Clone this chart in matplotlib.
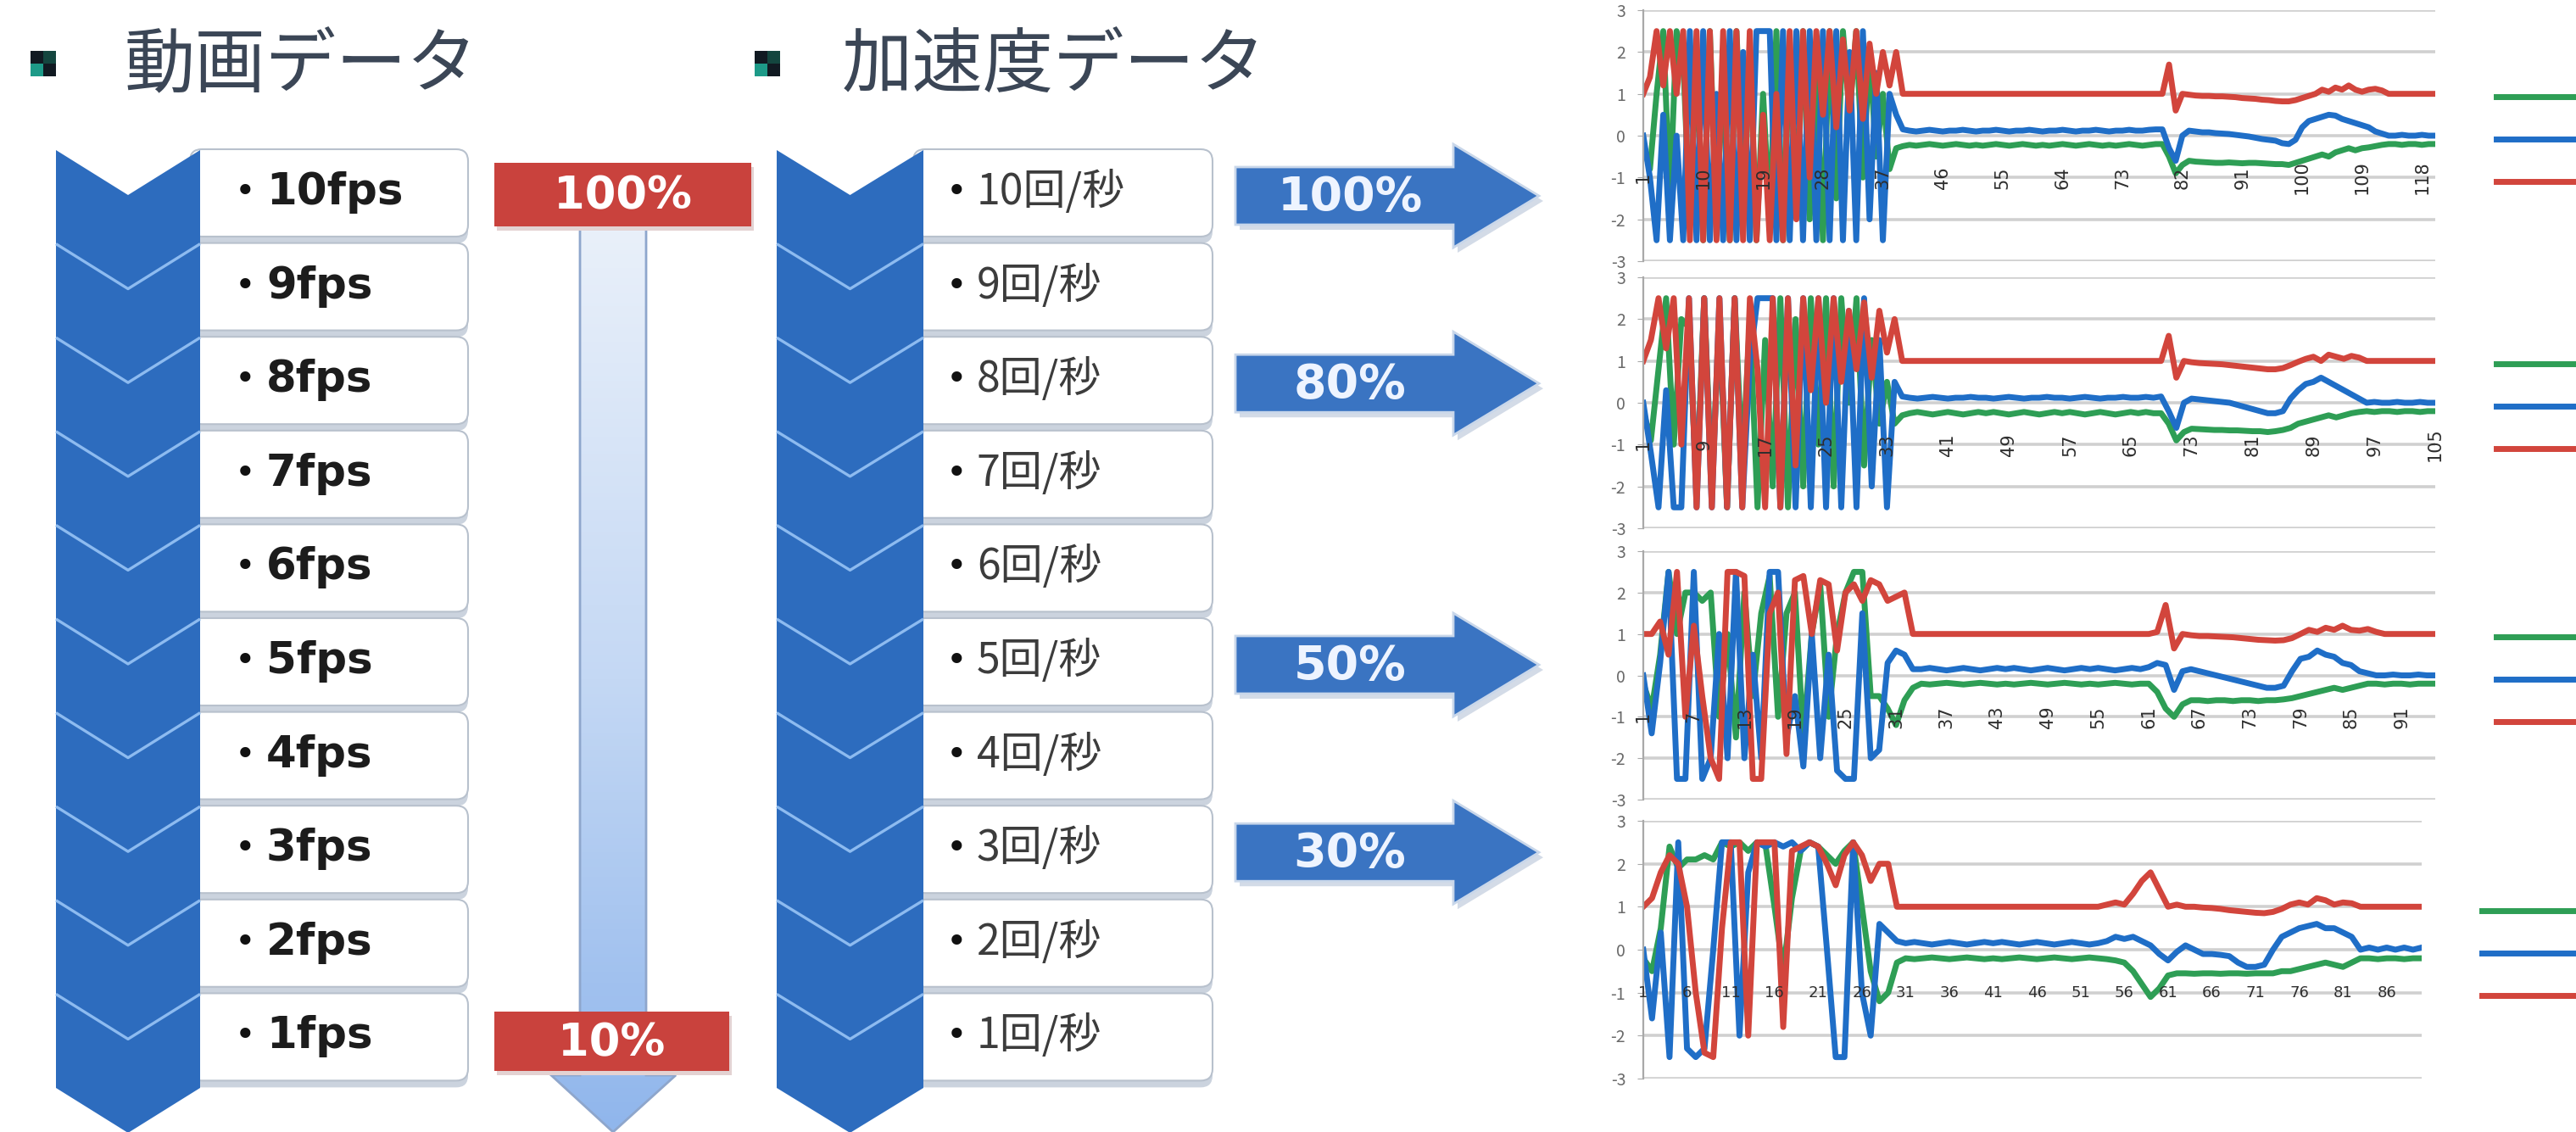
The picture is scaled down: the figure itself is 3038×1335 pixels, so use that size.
import numpy as np
import matplotlib
matplotlib.use("Agg")
import matplotlib.pyplot as plt
from matplotlib.patches import Polygon, FancyBboxPatch, Rectangle
from matplotlib.colors import LinearSegmentedColormap

plt.rcParams['font.family'] = ['Noto Sans CJK JP', 'DejaVu Sans']
plt.rcParams['axes.unicode_minus'] = False

W, H, DPI = 3038, 1335, 100

# ---------------- data ----------------
header_video = "動画データ"
header_accel = "加速度データ"
video_rates = ["10fps", "9fps", "8fps", "7fps", "6fps", "5fps", "4fps", "3fps", "2fps", "1fps"]
accel_rates = ["10回/秒", "9回/秒", "8回/秒", "7回/秒", "6回/秒",
               "5回/秒", "4回/秒", "3回/秒", "2回/秒", "1回/秒"]
video_range = ["100%", "10%"]
arrow_labels = ["100%", "80%", "50%", "30%"]
arrow_rows = [0, 2, 5, 7]
series_names = ["x", "y", "z"]

# 100% sampling
green_100 = [-0.2, -0.8, 1.0, 2.5, -1.5, 2.5, 1.8, -2.0, 2.0, -2.5,
             2.5, -2.0, 1.5, -2.5, 2.5, -1.0, 2.0, -2.5, 1.0, -2.0,
             2.5, -2.5, 2.0, -1.5, 2.5, -2.0, 1.5, -2.5, 2.5, -1.5,
             2.5, 0.5, 2.5, -1.0, 2.0, -0.5, 1.0, -0.8, -0.3, -0.25,
             -0.22, -0.24, -0.22, -0.2, -0.22, -0.24, -0.22, -0.2, -0.22, -0.24,
             -0.22, -0.24, -0.22, -0.2, -0.22, -0.24, -0.22, -0.2, -0.22, -0.24,
             -0.22, -0.24, -0.22, -0.2, -0.22, -0.24, -0.22, -0.2, -0.22, -0.24,
             -0.22, -0.24, -0.22, -0.2, -0.22, -0.24, -0.22, -0.2, -0.2, -0.5,
             -0.9, -0.7, -0.6, -0.62, -0.63, -0.64, -0.65, -0.65, -0.64, -0.65,
             -0.66, -0.65, -0.65, -0.66, -0.67, -0.68, -0.68, -0.7, -0.65, -0.6,
             -0.55, -0.5, -0.45, -0.5, -0.4, -0.35, -0.3, -0.35, -0.3, -0.28,
             -0.25, -0.22, -0.2, -0.2, -0.22, -0.2, -0.2, -0.22, -0.2, -0.2]
blue_100 = [0.0, -1.0, -2.5, 0.5, -2.5, 0.0, -2.5, 2.5, -2.5, 2.5,
            -2.5, 1.0, -2.5, 2.5, -2.5, 2.0, -2.5, 2.5, 2.5, 2.5,
            -2.5, 2.5, -2.5, 2.5, -2.5, 2.5, -2.5, 2.5, -2.5, 2.5,
            -2.5, 2.0, -2.5, 2.5, -2.0, 1.5, -2.5, 1.0, 0.5, 0.15,
            0.12, 0.1, 0.12, 0.14, 0.12, 0.1, 0.12, 0.12, 0.14, 0.12,
            0.1, 0.12, 0.12, 0.14, 0.12, 0.1, 0.12, 0.12, 0.14, 0.12,
            0.1, 0.12, 0.12, 0.14, 0.12, 0.1, 0.12, 0.12, 0.14, 0.12,
            0.1, 0.12, 0.12, 0.14, 0.12, 0.12, 0.14, 0.15, 0.15, -0.3,
            -0.6, 0.0, 0.12, 0.1, 0.08, 0.08, 0.06, 0.05, 0.04, 0.02,
            0.0, -0.02, -0.05, -0.08, -0.1, -0.12, -0.18, -0.2, -0.1, 0.2,
            0.35, 0.4, 0.45, 0.5, 0.48, 0.4, 0.35, 0.3, 0.25, 0.2,
            0.1, 0.05, 0.0, 0.0, 0.02, 0.0, 0.0, 0.02, 0.0, 0.0]
red_100 = [1.0, 1.4, 2.5, 1.2, 2.5, 1.0, 2.5, -2.5, 2.5, -2.5,
           2.5, -2.5, 2.5, -2.5, 2.5, -2.5, 2.5, -2.5, 0.5, -2.5,
           1.0, -2.5, 2.5, -2.0, 2.5, -1.0, 2.5, 0.5, 2.5, 0.2,
           2.3, 0.6, 2.5, 0.4, 2.2, 1.0, 2.0, 1.2, 2.0, 1.0,
           1.0, 1.0, 1.0, 1.0, 1.0, 1.0, 1.0, 1.0, 1.0, 1.0,
           1.0, 1.0, 1.0, 1.0, 1.0, 1.0, 1.0, 1.0, 1.0, 1.0,
           1.0, 1.0, 1.0, 1.0, 1.0, 1.0, 1.0, 1.0, 1.0, 1.0,
           1.0, 1.0, 1.0, 1.0, 1.0, 1.0, 1.0, 1.0, 1.0, 1.7,
           0.6, 1.0, 0.98, 0.96, 0.95, 0.95, 0.94, 0.94, 0.93, 0.92,
           0.9, 0.89, 0.88, 0.86, 0.85, 0.83, 0.82, 0.82, 0.85, 0.9,
           0.95, 1.0, 1.1, 1.05, 1.15, 1.1, 1.2, 1.1, 1.05, 1.1,
           1.12, 1.08, 1.0, 1.0, 1.0, 1.0, 1.0, 1.0, 1.0, 1.0]

# 80% sampling
green_80 = [-0.2, -0.9, 0.8, 2.5, -1.0, 2.0, 1.8, -2.0, 2.5, -2.0,
            2.0, -2.5, 2.5, -1.5, 2.0, -2.5, 1.5, -2.0, 2.5, -2.5,
            2.0, -2.0, 2.5, -1.0, 2.5, -2.0, 2.5, 0.0, 2.5, -1.5,
            1.5, -0.5, 0.5, -0.5, -0.3,
            -0.25, -0.22, -0.25, -0.28, -0.25, -0.22, -0.25, -0.28, -0.25, -0.22,
            -0.25, -0.22, -0.25, -0.28, -0.25, -0.22, -0.25, -0.28, -0.25, -0.22,
            -0.25, -0.22, -0.25, -0.28, -0.25, -0.22, -0.25, -0.28, -0.25, -0.22,
            -0.25, -0.22, -0.25, -0.25, -0.5, -0.9, -0.7, -0.62, -0.63, -0.64,
            -0.65, -0.65, -0.66, -0.66, -0.67, -0.68, -0.68, -0.7, -0.68, -0.65,
            -0.6, -0.5, -0.45, -0.4, -0.35, -0.3, -0.35, -0.3, -0.25, -0.22,
            -0.2, -0.22, -0.2, -0.2, -0.22, -0.2, -0.2, -0.22, -0.2, -0.2]
blue_80 = [0.0, -1.2, -2.5, 0.3, -2.5, -2.5, 2.5, -2.5, 2.5, -2.5,
           2.5, -2.5, 2.5, -2.5, 1.0, 2.5, 2.5, 2.5, -2.5, 2.5,
           -2.5, 2.5, -2.5, 2.5, -2.5, 2.5, -2.5, 2.2, -2.5, 2.5,
           -2.0, 1.5, -2.5, 0.5, 0.15,
           0.12, 0.1, 0.12, 0.14, 0.12, 0.1, 0.12, 0.12, 0.14, 0.12,
           0.12, 0.1, 0.12, 0.14, 0.12, 0.1, 0.12, 0.12, 0.14, 0.12,
           0.12, 0.1, 0.12, 0.14, 0.12, 0.1, 0.12, 0.12, 0.14, 0.12,
           0.12, 0.14, 0.12, 0.15, -0.2, -0.6, 0.0, 0.1, 0.08, 0.06,
           0.04, 0.02, 0.0, -0.05, -0.1, -0.15, -0.2, -0.25, -0.25, -0.2,
           0.1, 0.3, 0.45, 0.5, 0.6, 0.5, 0.4, 0.3, 0.2, 0.1,
           0.0, 0.02, 0.0, 0.0, 0.02, 0.0, 0.0, 0.02, 0.0, 0.0]
red_80 = [1.0, 1.5, 2.5, 1.3, 2.5, -1.0, 2.5, -2.5, 2.5, -2.5,
          2.5, -2.5, 2.5, -2.5, 2.5, 0.8, -2.5, 2.5, -2.5, 2.5,
          -1.5, 2.5, 0.3, 2.5, 0.0, 2.5, 0.5, 2.2, 0.8, 2.4,
          0.6, 2.2, 1.2, 2.0, 1.0,
          1.0, 1.0, 1.0, 1.0, 1.0, 1.0, 1.0, 1.0, 1.0, 1.0,
          1.0, 1.0, 1.0, 1.0, 1.0, 1.0, 1.0, 1.0, 1.0, 1.0,
          1.0, 1.0, 1.0, 1.0, 1.0, 1.0, 1.0, 1.0, 1.0, 1.0,
          1.0, 1.0, 1.0, 1.0, 1.6, 0.6, 1.0, 0.97, 0.95, 0.94,
          0.93, 0.92, 0.9, 0.88, 0.86, 0.84, 0.82, 0.8, 0.8, 0.83,
          0.9, 0.98, 1.05, 1.1, 1.0, 1.15, 1.1, 1.05, 1.12, 1.08,
          1.0, 1.0, 1.0, 1.0, 1.0, 1.0, 1.0, 1.0, 1.0, 1.0]

# 50% sampling
green_50 = [-0.2, -0.8, 0.5, 2.5, 1.0, 2.0, 2.0, 1.8, 2.0, -1.0,
            1.0, -1.5, 2.0, -0.5, 1.5, 2.4, -1.0, 1.5, 2.0, -1.5,
            1.0, 2.2, -1.0, 1.0, 2.0, 2.5, 2.5, -0.5, -0.5, -0.8,
            -1.2, -0.6, -0.3,
            -0.2, -0.22, -0.2, -0.18, -0.2, -0.22, -0.2, -0.18, -0.2, -0.22,
            -0.2, -0.22, -0.2, -0.18, -0.2, -0.22, -0.2, -0.18, -0.2, -0.22,
            -0.2, -0.22, -0.2, -0.18, -0.2, -0.22, -0.2, -0.2, -0.4, -0.8,
            -1.0, -0.7, -0.6, -0.6, -0.62, -0.6, -0.6, -0.62, -0.6, -0.6,
            -0.62, -0.6, -0.6, -0.58, -0.55, -0.5, -0.45, -0.4, -0.35, -0.3,
            -0.35, -0.3, -0.25, -0.2, -0.2, -0.22, -0.2, -0.2, -0.22, -0.2,
            -0.2, -0.2]
blue_50 = [0.0, -1.4, 0.3, 2.5, -2.5, -2.5, 2.5, -2.5, -2.0, 1.0,
           -2.0, 2.5, -2.0, 0.5, -2.0, 2.5, 2.5, -1.5, -0.5, -2.2,
           1.0, -2.0, 0.5, -2.3, -2.5, -2.5, 1.5, -2.0, -1.8, 0.3,
           0.6, 0.5, 0.15,
           0.15, 0.18, 0.15, 0.12, 0.15, 0.18, 0.15, 0.12, 0.15, 0.18,
           0.15, 0.18, 0.15, 0.12, 0.15, 0.18, 0.15, 0.12, 0.15, 0.18,
           0.15, 0.18, 0.15, 0.12, 0.15, 0.18, 0.15, 0.2, 0.3, 0.25,
           -0.35, 0.1, 0.15, 0.1, 0.05, 0.0, -0.05, -0.1, -0.15, -0.2,
           -0.25, -0.3, -0.3, -0.25, 0.1, 0.4, 0.45, 0.6, 0.5, 0.45,
           0.3, 0.25, 0.1, 0.05, 0.0, 0.0, 0.02, 0.0, 0.0, 0.02,
           0.0, 0.0]
red_50 = [1.0, 1.0, 1.3, 0.5, 2.5, -1.0, 1.2, -0.5, -2.0, -2.5,
          2.5, 2.5, 2.4, -2.5, -2.5, 1.5, 2.0, -1.9, 2.3, 2.4,
          1.0, 2.3, 2.2, 0.6, 2.0, 2.2, 1.8, 2.3, 2.2, 1.8,
          1.9, 2.0, 1.0,
          1.0, 1.0, 1.0, 1.0, 1.0, 1.0, 1.0, 1.0, 1.0, 1.0,
          1.0, 1.0, 1.0, 1.0, 1.0, 1.0, 1.0, 1.0, 1.0, 1.0,
          1.0, 1.0, 1.0, 1.0, 1.0, 1.0, 1.0, 1.0, 1.05, 1.7,
          0.65, 1.0, 0.97, 0.95, 0.95, 0.94, 0.93, 0.92, 0.9, 0.88,
          0.86, 0.85, 0.84, 0.85, 0.9, 1.0, 1.1, 1.05, 1.15, 1.1,
          1.2, 1.1, 1.08, 1.12, 1.05, 1.0, 1.0, 1.0, 1.0, 1.0,
          1.0, 1.0]

# 30% sampling
green_30 = [-0.2, -0.5, 0.5, 2.4, 1.9, 2.1, 2.1, 2.2, 2.1, 2.5,
            2.4, 2.5, 2.3, 2.5, 2.4, 1.0, -0.5, 1.2, 2.3, 2.5,
            2.4, 2.2, 2.0, 2.3, 2.5, 1.0, -0.5, -1.2, -1.0, -0.3,
            -0.2, -0.22, -0.2, -0.18, -0.2, -0.22, -0.2, -0.18, -0.2, -0.22,
            -0.2, -0.22, -0.2, -0.18, -0.2, -0.22, -0.2, -0.18, -0.2, -0.22,
            -0.2, -0.18, -0.2, -0.22, -0.25, -0.3, -0.5, -0.8, -1.1, -0.9,
            -0.6, -0.55, -0.55, -0.56, -0.55, -0.55, -0.56, -0.55, -0.55, -0.56,
            -0.55, -0.55, -0.55, -0.5, -0.5, -0.45, -0.4, -0.35, -0.3, -0.35,
            -0.4, -0.3, -0.2, -0.2, -0.22, -0.2, -0.2, -0.22, -0.2, -0.2]
blue_30 = [0.0, -1.6, 0.4, -2.5, 2.5, -2.3, -2.5, -2.3, 0.0, 2.5,
           2.5, -2.0, 1.8, 2.5, 2.4, 2.5, 2.4, 2.5, 2.3, 2.5,
           2.4, 0.0, -2.5, -2.5, 2.5, -1.0, -2.0, 0.6, 0.4, 0.2,
           0.15, 0.18, 0.15, 0.12, 0.15, 0.18, 0.15, 0.12, 0.15, 0.18,
           0.15, 0.18, 0.15, 0.12, 0.15, 0.18, 0.15, 0.12, 0.15, 0.18,
           0.15, 0.12, 0.15, 0.2, 0.3, 0.25, 0.3, 0.2, 0.1, -0.1,
           -0.25, -0.05, 0.1, 0.0, -0.1, -0.1, -0.12, -0.15, -0.3, -0.4,
           -0.4, -0.35, 0.0, 0.3, 0.4, 0.5, 0.55, 0.6, 0.5, 0.5,
           0.4, 0.3, 0.0, 0.05, 0.0, 0.05, 0.0, 0.05, 0.0, 0.05]
red_30 = [1.0, 1.2, 1.8, 2.2, 2.0, 1.0, -1.0, -2.4, -2.5, 0.5,
          2.5, 2.5, -2.0, 2.5, 2.5, 2.5, -1.8, 2.3, 2.4, 2.5,
          2.4, 2.0, 1.5, 2.2, 2.5, 2.2, 1.6, 2.0, 2.0, 1.0,
          1.0, 1.0, 1.0, 1.0, 1.0, 1.0, 1.0, 1.0, 1.0, 1.0,
          1.0, 1.0, 1.0, 1.0, 1.0, 1.0, 1.0, 1.0, 1.0, 1.0,
          1.0, 1.0, 1.0, 1.05, 1.1, 1.05, 1.3, 1.6, 1.8, 1.4,
          1.0, 1.05, 1.0, 1.0, 0.98, 0.97, 0.95, 0.92, 0.9, 0.88,
          0.86, 0.85, 0.88, 0.95, 1.05, 1.1, 1.05, 1.2, 1.15, 1.05,
          1.1, 1.08, 1.0, 1.0, 1.0, 1.0, 1.0, 1.0, 1.0, 1.0]

y_ticks = [-3, -2, -1, 0, 1, 2, 3]

# ---------------- styling ----------------
CHEV = '#2d6cbe'
CHEV_LINE = '#8dbbf0'
RED_BOX = '#c9423d'
ARROW_BLUE = '#3a74c2'
LINE_COLORS = ['#2e9e55', '#1f6ec7', '#d2453c']
HEAD_COLOR = '#3b4656'
CJK = ['Noto Sans CJK JP', 'DejaVu Sans']

fig = plt.figure(figsize=(W / DPI, H / DPI), dpi=DPI)
fig.patch.set_facecolor('white')

bg = fig.add_axes([0, 0, 1, 1])
bg.axis('off')

# headers with checkered square bullets
def square_bullet(x, y, s):
    h = s / 2
    for dx, dy, c in [(0, 0, '#111a22'), (h, 0, '#14463f'), (0, h, '#1d9a88'), (h, h, '#111a22')]:
        bg.add_patch(Rectangle((x + dx, y + dy), h, h, fc=c, ec='none', zorder=3))

square_bullet(36, 60, 30)
bg.text(147, 78, header_video, fontsize=60, color=HEAD_COLOR, va='center', ha='left',
        family=CJK, zorder=3)
square_bullet(890, 60, 30)
bg.text(993, 78, header_accel, fontsize=60, color=HEAD_COLOR, va='center', ha='left',
        family=CJK, zorder=3)

ROW0, PERIOD, DEPTH = 177, 110.6, 53

def chevron_column(x0, x1, n):
    xc = (x0 + x1) / 2
    for k in range(n):
        y = ROW0 + k * PERIOD
        pts = [(x0, y), (xc, y + DEPTH), (x1, y), (x1, y + PERIOD),
               (xc, y + PERIOD + DEPTH), (x0, y + PERIOD)]
        bg.add_patch(Polygon(pts, closed=True, fc=CHEV, ec='none', zorder=3))
    for k in range(1, n):
        y = ROW0 + k * PERIOD
        bg.plot([x0, xc, x1], [y, y + DEPTH, y], color=CHEV_LINE, lw=2.4, zorder=3.5,
                solid_capstyle='butt')

def label_boxes(x0, x1, labels, bullet_x, text_x, fs, weight, color, family):
    for k, txt in enumerate(labels):
        yc = ROW0 + 50 + k * PERIOD
        bg.add_patch(FancyBboxPatch((x0, yc - 51 + 8), x1 - x0, 103,
                                    boxstyle='round,pad=0,rounding_size=14',
                                    fc='#cbd3de', ec='none', zorder=2))
        bg.add_patch(FancyBboxPatch((x0, yc - 51), x1 - x0, 103,
                                    boxstyle='round,pad=0,rounding_size=14',
                                    fc='white', ec='#b8c1cd', lw=1.5, zorder=2.5))
        bg.text(bullet_x, yc, '•', fontsize=30, color='#111111', va='center', ha='center',
                family='DejaVu Sans', zorder=4)
        bg.text(text_x, yc, txt, fontsize=fs, fontweight=weight, color=color,
                va='center', ha='left', family=family, zorder=4)

label_boxes(224, 552, video_rates, 289, 314, 37, 'bold', '#1c1c1c', ['DejaVu Sans'])
chevron_column(66, 236, len(video_rates))
label_boxes(1077, 1430, accel_rates, 1128, 1152, 36, 'normal', '#3c3c3c', CJK)
chevron_column(916, 1089, len(accel_rates))

# vertical gradient arrow from 100% to 10%
shaft = [(684, 268), (762, 268), (762, 1268), (797, 1268), (723, 1335), (650, 1268), (684, 1268)]
arrow_patch = Polygon(shaft, closed=True, fc='none', ec='#8ea6cc', lw=2, zorder=1.9)
bg.add_patch(arrow_patch)
grad = np.linspace(0, 1, 256).reshape(-1, 1)
cmap = LinearSegmentedColormap.from_list('shaft', ['#e9f0fa', '#c4d8f4', '#90b6ec'])
im = bg.imshow(grad, extent=(650, 797, 1335, 268), cmap=cmap, aspect='auto',
               origin='upper', zorder=1.8, interpolation='bilinear')
im.set_clip_path(arrow_patch)

# red range boxes
for (x, y, w, h), txt in zip([(583, 192, 303, 75), (583, 1193, 277, 70)], video_range):
    bg.add_patch(Rectangle((x + 3, y + 5), w, h, fc='#e3d2d2', ec='none', zorder=4))
    bg.add_patch(Rectangle((x, y), w, h, fc=RED_BOX, ec='none', zorder=4.2))
    bg.text(x + w / 2, y + h / 2 + 2, txt, fontsize=38, fontweight='bold', color='white',
            ha='center', va='center', family='DejaVu Sans', zorder=5)

# blue arrows pointing to the charts
for row, txt in zip(arrow_rows, arrow_labels):
    yc = ROW0 + 54 + row * PERIOD
    pts = [(1457, yc - 34), (1714, yc - 34), (1714, yc - 61), (1815, yc),
           (1714, yc + 61), (1714, yc + 34), (1457, yc + 34)]
    shadow = [(px + 5, py + 6) for px, py in pts]
    bg.add_patch(Polygon(shadow, closed=True, fc='#d3dbe7', ec='none', zorder=3))
    bg.add_patch(Polygon(pts, closed=True, fc=ARROW_BLUE, ec='#c9d7ea', lw=2, zorder=3.5))
    bg.text(1592, yc + 2, txt, fontsize=40, fontweight='bold', color='#eef4ff',
            ha='center', va='center', family='DejaVu Sans', zorder=4)

bg.set_xlim(0, W)
bg.set_ylim(H, 0)

# ---------------- line charts ----------------
def fig_rect(x0, x1, y_top, y_bot):
    return [x0 / W, 1 - y_bot / H, (x1 - x0) / W, (y_bot - y_top) / H]

charts = [
    (fig_rect(1938, 2872, 12, 308), (green_100, blue_100, red_100), 9, 90, 15),
    (fig_rect(1938, 2872, 327, 623), (green_80, blue_80, red_80), 8, 90, 15),
    (fig_rect(1938, 2872, 650, 943), (green_50, blue_50, red_50), 6, 90, 15),
    (fig_rect(1938, 2856, 968, 1272), (green_30, blue_30, red_30), 5, 0, 13),
]

for rect, series, step, rot, lfs in charts:
    ax = fig.add_axes(rect, zorder=2)
    n = len(series[0])
    idx = np.arange(n)
    lines = []
    for vals, col, name in zip(series, LINE_COLORS, series_names):
        lines += ax.plot(idx, vals, color=col, lw=5.0, label=name)
    ax.set_xlim(0, n - 1)
    ax.set_ylim(-3, 3)
    ax.set_yticks(y_ticks)
    ax.set_yticklabels([str(t) for t in y_ticks])
    ax.yaxis.grid(True, color='#d0d0d0', lw=2.6)
    ax.set_axisbelow(True)
    ax.set_xticks([])
    ax.patch.set_alpha(0)
    for s in ['top', 'right', 'bottom']:
        ax.spines[s].set_visible(False)
    ax.spines['left'].set_color('#a9a9a9')
    ax.spines['left'].set_linewidth(1.6)
    ax.tick_params(axis='y', length=5, color='#a9a9a9', labelsize=14,
                   labelcolor='#6a6a6a', pad=10)
    # legend keys run off the right edge of the page, names are not visible
    ax.legend(lines, ['', '', ''], loc='center left', bbox_to_anchor=(1.077, 0.48),
              frameon=False, fontsize=20, handlelength=4.0, labelspacing=0.72,
              borderpad=0, borderaxespad=0, handletextpad=0.0)

    # category labels drawn above the data lines, centred on the -1 grid line
    lab = fig.add_axes(rect, zorder=3)
    lab.set_xlim(0, n - 1)
    lab.set_ylim(-3, 3)
    lab.patch.set_alpha(0)
    for s in lab.spines.values():
        s.set_visible(False)
    lab.spines['bottom'].set_position(('data', -1))
    lab.set_yticks([])
    ticks = idx[::step]
    lab.set_xticks(ticks)
    lab.set_xticklabels([str(t + 1) for t in ticks])
    lab.tick_params(axis='x', length=0, pad=0, labelsize=lfs, labelcolor='#2e2e2e',
                    labelrotation=rot)
    for t in lab.get_xticklabels():
        t.set_verticalalignment('center')
        t.set_family('DejaVu Sans')

fig.savefig('out.png', dpi=DPI, facecolor='white')
